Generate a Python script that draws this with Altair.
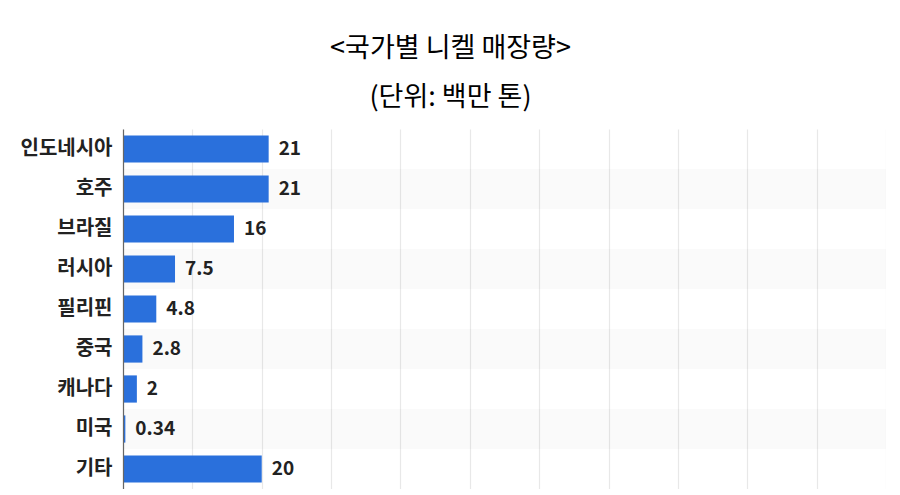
import altair as alt
import pandas as pd

countries = ["인도네시아", "호주", "브라질", "러시아", "필리핀", "중국", "캐나다", "미국", "기타"]
values = [21, 21, 16, 7.5, 4.8, 2.8, 2, 0.34, 20]
labels = ["21", "21", "16", "7.5", "4.8", "2.8", "2", "0.34", "20"]
shaded = [0, 1, 0, 1, 0, 1, 0, 1, 0]

df = pd.DataFrame({"country": countries, "value": values, "label": labels, "shade": shaded})

FONT = "Noto Sans CJK KR"

y_enc = alt.Y(
    "country:N",
    sort=countries,
    title=None,
    scale=alt.Scale(paddingInner=0, paddingOuter=0),
    axis=alt.Axis(
        labelFont=FONT, labelFontSize=20, labelFontWeight="bold", labelColor="#222222",
        labelPadding=11, ticks=False, domainColor="#666666", domainWidth=1.2, grid=False,
    ),
)
x_enc = alt.X(
    "value:Q",
    title=None,
    scale=alt.Scale(domain=[0, 110], nice=False),
    axis=alt.Axis(
        values=list(range(0, 111, 10)), labels=False, ticks=False,
        grid=True, gridColor="#e8e8e8", gridWidth=1.2, domainColor="#bbbbbb",
    ),
)

bands = alt.Chart(df).mark_rect(color="#000000").encode(
    y=y_enc,
    x=alt.value(0),
    x2=alt.value(763),
    opacity=alt.Opacity("shade:Q", scale=alt.Scale(domain=[0, 1], range=[0, 0.02]), legend=None),
)

bars = alt.Chart(df).mark_bar(color="#2a70dc", height={"band": 0.68}).encode(
    y=y_enc, x=x_enc
)

text = alt.Chart(df).mark_text(
    align="left", baseline="middle", dx=10, font=FONT, fontSize=19, fontWeight="bold", color="#222222"
).encode(y=y_enc, x=x_enc, text="label:N")

chart = alt.layer(bands, bars, text).properties(
    width=763,
    height=360,
    autosize=alt.AutoSizeParams(type="none"),
    padding={"left": 115, "top": 121, "right": 0, "bottom": 0},
    title=alt.TitleParams(
        text="<국가별 니켈 매장량>",
        subtitle="(단위: 백만 톤)",
        font=FONT, fontSize=27, fontWeight="normal", color="#000000",
        subtitleFont=FONT, subtitleFontSize=27, subtitleColor="#000000",
        subtitlePadding=22, anchor="middle", dx=-54, offset=17,
    ),
).configure_view(stroke=None)

chart.save("out.html", embed_options={"renderer": "svg", "actions": False})
